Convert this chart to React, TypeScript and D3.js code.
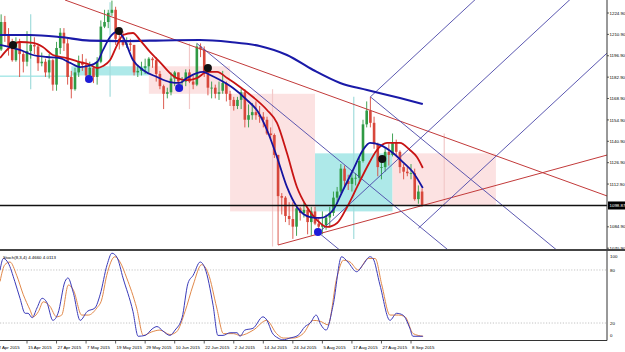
import React from 'react';
import * as d3 from 'd3';

// ---------- DATA ----------
// daily bars, index 0 = 15 Apr 2015 (first bar index = -7, 6 Apr 2015)
const firstIndex = -7;
const opens = [1201,1219,1211,1203,1194,1206,1198,1193,1200,1204,1203,1192,1193,1186,1194,1178,1202,1212,1205,1183,1175,1186,1193,1191,1184,1189,1183,1193,1216,1219,1225,1227,1208,1207,1204,1205,1204,1186,1187,1189,1190,1195,1194,1185,1177,1172,1173,1182,1186,1180,1180,1186,1180,1178,1203,1201,1185,1176,1176,1172,1174,1179,1172,1168,1164,1168,1173,1155,1158,1160,1158,1157,1155,1146,1145,1132,1105,1104,1092,1090,1085,1097,1094,1096,1088,1095,1087,1085,1086,1091,1094,1104,1108,1123,1115,1113,1117,1117,1128,1152,1161,1153,1139,1124,1124,1134,1132,1140,1134,1124,1121,1120,1120,1103,1108];
const highs = [1224,1223,1215,1208,1209,1208,1200,1213,1210,1209,1204,1199,1195,1198,1195,1206,1215,1215,1208,1187,1189,1197,1198,1195,1193,1190,1196,1220,1227,1227,1233,1229,1213,1213,1209,1208,1204,1191,1193,1195,1196,1196,1196,1187,1178,1176,1186,1187,1186,1183,1188,1188,1184,1205,1205,1203,1187,1180,1178,1180,1187,1180,1174,1170,1170,1175,1175,1165,1166,1167,1164,1160,1157,1150,1146,1132,1107,1105,1101,1101,1098,1098,1101,1097,1098,1098,1091,1095,1093,1098,1108,1111,1126,1125,1119,1120,1120,1131,1155,1167,1170,1157,1140,1128,1137,1139,1146,1142,1135,1126,1124,1126,1123,1112,1110];
const lows = [1200,1206,1197,1193,1193,1183,1186,1190,1195,1198,1187,1190,1183,1182,1174,1174,1198,1200,1178,1169,1174,1183,1187,1180,1180,1179,1178,1192,1215,1215,1223,1204,1201,1203,1202,1200,1184,1183,1184,1185,1186,1189,1180,1175,1162,1169,1171,1177,1176,1175,1177,1179,1175,1177,1196,1183,1171,1169,1169,1168,1172,1167,1164,1161,1162,1162,1150,1150,1155,1155,1153,1150,1145,1142,1130,1073,1093,1088,1086,1077,1079,1089,1091,1080,1079,1086,1082,1080,1083,1085,1092,1100,1107,1111,1109,1108,1112,1113,1127,1150,1150,1136,1118,1116,1121,1125,1131,1132,1120,1116,1118,1116,1102,1100,1098];
const closes = [1219,1211,1203,1194,1206,1198,1193,1200,1204,1203,1192,1193,1186,1194,1178,1202,1212,1205,1183,1175,1186,1193,1191,1184,1189,1183,1193,1216,1219,1225,1227,1208,1207,1204,1205,1204,1186,1187,1189,1190,1195,1194,1185,1177,1172,1173,1182,1186,1180,1180,1186,1180,1178,1203,1201,1185,1176,1176,1172,1173,1179,1172,1168,1164,1168,1173,1155,1158,1160,1158,1157,1155,1146,1145,1132,1105,1104,1092,1090,1085,1097,1094,1096,1088,1095,1087,1085,1086,1091,1094,1104,1108,1123,1115,1113,1117,1117,1128,1152,1161,1153,1139,1124,1124,1134,1132,1140,1134,1124,1121,1120,1120,1103,1108,1099];

// monthly overlay boxes
const monthStart = [-10, 12, 33, 55, 78, 99];
const monthEnd = [12, 33, 55, 78, 99, 127];
const monthOpen = [1183, 1184, 1190, 1172, 1095, 1133];
const monthHigh = [1224, 1232, 1205, 1175, 1170, 1146];
const monthLow = [1175, 1170, 1162, 1072, 1077, 1098];
const monthClose = [1184, 1190, 1172, 1095, 1133, 1099];

// moving averages (read key points: bar index, price)
const slowIdx = [-7.3, 0.8, 8.9, 17, 25.2, 33.3, 46.8, 55, 63, 70.4, 77.5, 84.8, 92.1, 101, 107.2];
const slowVal = [1210.5, 1210.5, 1209.2, 1206.8, 1206.5, 1206.8, 1207.2, 1205.9, 1203.3, 1197.4, 1187.6, 1179.1, 1174.5, 1169.2, 1165.3];
const fastIdx = [-7.3,-4.6,-1.9,1.6,5.4,8.9,11.7,14.4,16.5,19,20.6,22.5,24.4,26,28.7,31.4,35.2,38.7,41.4,43.3,46,47.7,49.6,52.3,55.8,59.6,62.6,65,67.7,70.4,73.1,76.7,79.4,82.9,85.6,88.3,91,92.9,95.6,99.1,101.8,104.5,107.2];
const fastVal = [1204,1202.6,1200.7,1197.4,1196.1,1195.4,1192.2,1189.5,1190.2,1192.8,1200.7,1209.2,1212.5,1209.2,1194.1,1187.6,1183,1179.7,1179.1,1182.3,1185.6,1186.3,1184.3,1181,1175.8,1167.9,1160.1,1148.3,1130.6,1111,1097.9,1091.3,1090.7,1095.9,1109,1122.1,1135.2,1139.8,1138.5,1133.2,1127.3,1120.8,1110.3];
const redIdx = [-7.3,-4.6,-1.9,1.6,4.3,7,10.8,14.4,17.1,19,20.6,22.5,24.4,26,28.7,30.6,33.3,36,38.7,40.6,43.3,46,48.8,51.5,54.2,57.7,61.2,65,67.7,70.4,73.1,75.8,78.5,81.3,84,86.7,89.4,92.1,94.8,97.5,101,103.7,105.6,107.2];
const redVal = [1195.4,1202.6,1205.9,1205.3,1202.6,1197.4,1195.4,1192.8,1190.9,1188.9,1190.2,1194.1,1203.9,1210.5,1211.8,1207.2,1199.4,1192.8,1185.6,1182.3,1181,1182.3,1186.3,1186.3,1182.3,1176.5,1169.9,1161.4,1152.9,1133.2,1111,1097.9,1089.4,1084.8,1087.4,1097.9,1111,1124.1,1135.2,1139.8,1139.8,1135.2,1130.6,1123.4];

// crossover markers
const crossIdx = [-3.8, 16.8, 24.9, 41.2, 49, 78.8, 96.2];
const crossPrice = [1203.9, 1181.7, 1213.1, 1175.8, 1188.9, 1081.5, 1129.3];
const crossKind = ['down', 'up', 'down', 'up', 'down', 'up', 'down'];

// trend lines (red)
const trendFromIdx = [10.3, 68];
const trendFromPrice = [1233.4, 1073];
const trendToIdx = [157.1, 157.1];
const trendToPrice = [1105.1, 1131.9];

// pitchforks: [pivot0, pivot1, pivot2]
const forkDownIdx = [46, 79, 93];
const forkDownPrice = [1205, 1081, 1170];
const forkUpIdx = [79, 93, 106];
const forkUpPrice = [1081, 1170, 1084];

const currentPrice = 1098.87;

// stochastic
const kIdx = [-7.3,-6.4,-5.1,-3.3,-1.9,-0.5,0.3,1.4,2.7,4.1,5.4,7,8.4,10.3,11.1,12.5,14.4,16.3,18.4,19.8,21.7,23,24.4,26,28.7,30.1,32,34.1,35.2,36.8,38.7,40.1,42,43.6,45,46.9,48.2,50.4,51.7,53.1,55,56.9,57.7,59,61.2,63.9,65,66.4,68,69.3,71.2,73.4,75.3,76.7,78.3,79.6,81,82.9,85.2,86.9,89.3,91,92.9,93.7,95.6,98.3,100.1,101.8,103.7,104.5,105.9,107.2];
const kVal = [80,93,88,67,48,31,31,26,37,48,43,23,31,67,71,55,23,33,37,52,86,99,94,71,33,5,6,14,16,11,6,12,26,65,74,89,82,40,6,6,9,9,5,12,14,27,23,9,3,1,3,6,16,20,29,18,12,40,95,89,78,86,95,93,63,23,31,29,14,5,5,5];
const dIdx = [-7.3,-6,-4.6,-2.8,-1,0.8,1.7,3.1,4.4,6.2,8,9.4,11.2,12.6,14.8,16.6,18.9,20.2,21.6,23.8,25.2,27,29.7,31.5,33.8,36,38.7,40.5,42.8,45,47.3,49.1,51.4,53.2,55.9,57.7,61.3,64.9,67.6,69.4,72.1,74.8,77.5,79.4,81.5,83.9,85.7,87.5,89.7,92.4,94.3,96.1,98.3,100.6,102.4,104.6,107.3];
const dVal = [67,86,89,74,52,35,27,33,44,39,27,29,63,57,29,29,37,46,74,95,89,71,37,6,10,12,7,10,33,63,86,76,37,8,8,6,12,23,8,3,3,8,23,22,18,71,91,89,80,93,93,63,29,29,27,8,5];

const tickIdx = [-8, 0, 8, 16, 24, 32, 40, 48, 56, 64, 72, 80, 88, 96, 104];
const tickLabels = ['2 Apr 2015','15 Apr 2015','27 Apr 2015','7 May 2015','19 May 2015','29 May 2015','10 Jun 2015','22 Jun 2015','2 Jul 2015','14 Jul 2015','24 Jul 2015','5 Aug 2015','17 Aug 2015','27 Aug 2015','8 Sep 2015'];
const priceTicks = [1224.9, 1210.9, 1196.9, 1182.9, 1168.9, 1154.9, 1140.9, 1126.9, 1112.9, 1084.9, 1070.9];
const stochTicks = [100, 80, 20, 0];
const stochTitle = 'Stoch(8,3,4) 4.4660 4.0113';

// ---------- STYLE ----------
const AXIS_X = 607;
const MAIN_BOTTOM = 249;
const SUB_TOP = 252;
const SUB_BOTTOM = 340.5;
const BULL = '#2f9a44';
const BEAR = '#d8473b';
const FONT = "'Liberation Sans', Arial, sans-serif";
const FS = 4.4;

export default function App() {
  React.useEffect(() => {
    document.body.style.margin = '0';
  }, []);

  const x = d3.scaleLinear().domain([0, 104]).range([27, 411]);
  const y = d3.scaleLinear().domain([1070.9, 1224.9]).range([248.2, 13]);
  const ys = d3.scaleLinear().domain([0, 100]).range([340.7, 252.3]);

  const smooth = (idx: number[], val: number[], yy: any) =>
    d3.line<number>().x((_, i) => x(idx[i])).y((v) => yy(v)).curve(d3.curveMonotoneX)(val) || '';

  const forkLines = (pi: number[], pp: number[]) => {
    const midI = (pi[1] + pi[2]) / 2;
    const midP = (pp[1] + pp[2]) / 2;
    const slope = (midP - pp[0]) / (midI - pi[0]);
    const far = 220;
    return [0, 1, 2].map((k) => ({
      x1: x(pi[k]), y1: y(pp[k]),
      x2: x(far), y2: y(pp[k] + slope * (far - pi[k])),
    }));
  };
  const downFork = forkLines(forkDownIdx, forkDownPrice);
  const upFork = forkLines(forkUpIdx, forkUpPrice);

  const bw = 2.6;

  return (
    <svg width={625} height={352} style={{ position: 'absolute', left: 0, top: 0, background: '#fff' }} fontFamily={FONT}>
      <defs>
        <clipPath id="mainClip"><rect x={0} y={0} width={AXIS_X} height={MAIN_BOTTOM} /></clipPath>
        <clipPath id="subClip"><rect x={0} y={SUB_TOP} width={AXIS_X} height={SUB_BOTTOM - SUB_TOP} /></clipPath>
      </defs>
      <rect x={0} y={0} width={625} height={352} fill="#fff" />

      <g clipPath="url(#mainClip)">
        {/* monthly boxes */}
        {monthStart.map((s, k) => {
          const bull = monthClose[k] >= monthOpen[k];
          const top = y(Math.max(monthOpen[k], monthClose[k]));
          const bot = y(Math.min(monthOpen[k], monthClose[k]));
          const cx = x((s + monthEnd[k]) / 2);
          return (
            <g key={'m' + k}>
              <rect x={x(s)} y={top} width={x(monthEnd[k]) - x(s)} height={Math.max(bot - top, 0.8)}
                fill={bull ? '#aee9e9' : '#fce2e2'} />
              <line x1={cx} x2={cx} y1={y(monthHigh[k])} y2={y(monthLow[k])}
                stroke={bull ? '#a2dcdc' : '#f2c9c9'} strokeWidth={1.2} />
            </g>
          );
        })}

        {/* candles */}
        {opens.map((o, k) => {
          const i = firstIndex + k;
          const c = closes[k];
          const cx = x(i);
          const col = c >= o ? BULL : BEAR;
          const top = y(Math.max(o, c));
          const bot = y(Math.min(o, c));
          return (
            <g key={'c' + k}>
              <line x1={cx} x2={cx} y1={y(highs[k])} y2={y(lows[k])} stroke={col} strokeWidth={0.9} />
              <rect x={cx - bw / 2} y={top} width={bw} height={Math.max(bot - top, 0.8)} fill={col} />
            </g>
          );
        })}

        {/* red trend lines */}
        {trendFromIdx.map((fi, k) => (
          <line key={'t' + k} x1={x(fi)} y1={y(trendFromPrice[k])} x2={x(trendToIdx[k])} y2={y(trendToPrice[k])}
            stroke="#c23a3a" strokeWidth={1} />
        ))}

        {/* pitchforks */}
        {downFork.map((l, k) => (
          <line key={'df' + k} {...l} stroke="#4a46a8" strokeWidth={0.9} />
        ))}
        {upFork.map((l, k) => (
          <line key={'uf' + k} {...l} stroke="#4a46a8" strokeWidth={0.9} />
        ))}

        {/* moving averages */}
        <path d={smooth(slowIdx, slowVal, y)} fill="none" stroke="#1a1aa8" strokeWidth={2.1} />
        <path d={smooth(redIdx, redVal, y)} fill="none" stroke="#c81414" strokeWidth={1.8} />
        <path d={smooth(fastIdx, fastVal, y)} fill="none" stroke="#1414a0" strokeWidth={1.8} />

        {/* cross markers */}
        {crossIdx.map((ci, k) => (
          <circle key={'x' + k} cx={x(ci)} cy={y(crossPrice[k])} r={4}
            fill={crossKind[k] === 'up' ? '#1c1cd8' : '#111'} />
        ))}

        {/* current price line */}
        <line x1={0} x2={AXIS_X} y1={y(currentPrice)} y2={y(currentPrice)} stroke="#111" strokeWidth={1.3} />
      </g>

      {/* main axis */}
      <line x1={AXIS_X} x2={AXIS_X} y1={0} y2={MAIN_BOTTOM} stroke="#333" strokeWidth={1} />
      {priceTicks.map((p) => (
        <g key={'p' + p}>
          <line x1={AXIS_X} x2={AXIS_X + 2} y1={y(p)} y2={y(p)} stroke="#333" strokeWidth={0.8} />
          <text x={AXIS_X + 2.5} y={y(p) + 1.6} fontSize={FS} fill="#000">{p.toFixed(2)}</text>
        </g>
      ))}
      <rect x={AXIS_X + 1} y={y(currentPrice) - 4} width={17} height={8} fill="#000" />
      <text x={AXIS_X + 2.5} y={y(currentPrice) + 1.6} fontSize={FS} fill="#fff">{currentPrice.toFixed(2)}</text>

      {/* separator */}
      <line x1={0} x2={625} y1={MAIN_BOTTOM + 1} y2={MAIN_BOTTOM + 1} stroke="#444" strokeWidth={2.2} />

      {/* stochastic */}
      <g clipPath="url(#subClip)">
        {[80, 20].map((v) => (
          <line key={'lv' + v} x1={0} x2={AXIS_X} y1={ys(v)} y2={ys(v)} stroke="#aaa" strokeWidth={0.7} strokeDasharray="1.2,1.6" />
        ))}
        <path d={smooth(dIdx, dVal, ys)} fill="none" stroke="#e0884a" strokeWidth={1} />
        <path d={smooth(kIdx, kVal, ys)} fill="none" stroke="#3a3ab8" strokeWidth={1} />
      </g>
      <text x={3} y={259} fontSize={FS} fill="#000">{stochTitle}</text>
      <line x1={AXIS_X} x2={AXIS_X} y1={SUB_TOP - 1} y2={SUB_BOTTOM} stroke="#333" strokeWidth={1} />
      <line x1={0} x2={AXIS_X} y1={SUB_BOTTOM} y2={SUB_BOTTOM} stroke="#333" strokeWidth={1} />
      {stochTicks.map((v) => (
        <text key={'s' + v} x={AXIS_X + 3} y={v === 100 ? 258 : v === 0 ? 337 : ys(v) + 1.6} fontSize={FS} fill="#000">{v}</text>
      ))}

      {/* date axis */}
      {tickIdx.map((ti, k) => (
        <g key={'d' + k}>
          <line x1={x(ti)} x2={x(ti)} y1={SUB_BOTTOM} y2={SUB_BOTTOM + 3} stroke="#333" strokeWidth={0.8} />
          <text x={x(ti) + 1} y={348.5} fontSize={FS} fill="#000">{tickLabels[k]}</text>
        </g>
      ))}
    </svg>
  );
}
